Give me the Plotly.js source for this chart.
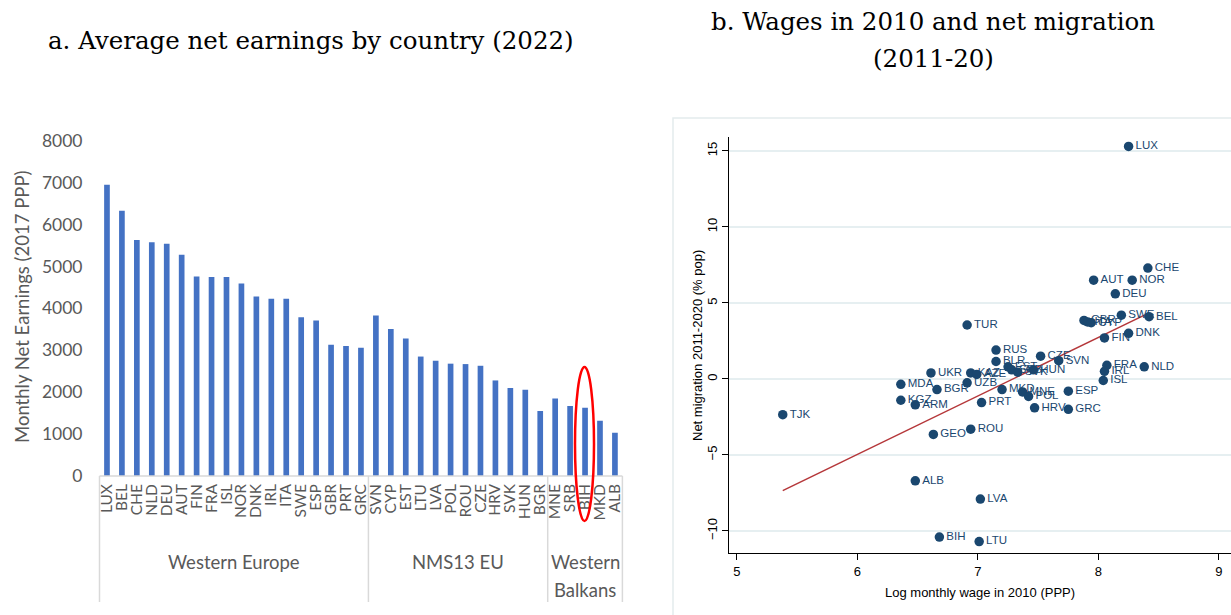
<!DOCTYPE html>
<html>
<head>
<meta charset="utf-8">
<script src="https://cdn.plot.ly/plotly-3.0.1.min.js"></script>
<style>
  html, body { margin: 0; padding: 0; background: #ffffff; }
  #chart { width: 1231px; height: 615px; }
</style>
</head>
<body>
<div id="chart"></div>
<script>
// ---------- Panel a data ----------
const countries = ['LUX','BEL','CHE','NLD','DEU','AUT','FIN','FRA','ISL','NOR','DNK','IRL','ITA','SWE','ESP','GBR','PRT','GRC',
                   'SVN','CYP','EST','LTU','LVA','POL','ROU','CZE','HRV','SVK','HUN','BGR',
                   'MNE','SRB','BIH','MKD','ALB'];
const earnings = [6950, 6330, 5630, 5580, 5540, 5280, 4760, 4750, 4750, 4590, 4280, 4230, 4230, 3790, 3710, 3130, 3100, 3060,
                  3830, 3510, 3280, 2850, 2750, 2680, 2670, 2630, 2280, 2100, 2060, 1550,
                  1850, 1670, 1630, 1320, 1030];
const groupNames = ['Western Europe', 'NMS13 EU', 'Western<br>Balkans'];
const groupSizes = [18, 12, 5];
const yTicksA = [0, 1000, 2000, 3000, 4000, 5000, 6000, 7000, 8000];

// ---------- Panel b data ----------
const isoCodes = ['LUX','CHE','AUT','NOR','DEU','SWE','BEL','GBR','ITA','CYP','FIN','DNK','FRA','IRL','ISL','NLD',
                  'ESP','SVN','GRC','HRV','TUR','RUS','BLR','EST','SRB','SVK','HUN','CZE','UKR','KAZ','AZE','UZB',
                  'MDA','BGR','KGZ','ARM','PRT','MKD','MNE','POL','GEO','ROU','TJK','ALB','LVA','BIH','LTU'];
const logWage = [8.25, 8.41, 7.96, 8.28, 8.14, 8.19, 8.42, 7.88, 7.91, 7.94, 8.05, 8.25, 8.07, 8.05, 8.04, 8.38,
                 7.75, 7.67, 7.75, 7.47, 6.91, 7.15, 7.15, 7.25, 7.28, 7.33, 7.46, 7.52, 6.61, 6.94, 6.99, 6.91,
                 6.36, 6.66, 6.36, 6.48, 7.03, 7.20, 7.37, 7.42, 6.63, 6.94, 5.38, 6.48, 7.02, 6.68, 7.01];
const netMig = [15.3, 7.3, 6.5, 6.5, 5.6, 4.2, 4.1, 3.85, 3.75, 3.7, 2.7, 3.0, 0.9, 0.5, -0.1, 0.8,
                -0.8, 1.2, -2.0, -1.9, 3.55, 1.9, 1.15, 0.8, 0.6, 0.45, 0.6, 1.5, 0.4, 0.4, 0.3, -0.25,
                -0.35, -0.7, -1.4, -1.7, -1.55, -0.7, -0.85, -1.15, -3.65, -3.3, -2.35, -6.7, -7.9, -10.4, -10.7];
const fitX = [5.38, 8.42];
const fitY = [-7.35, 4.35];
const yTicksB = [-10, -5, 0, 5, 10, 15];
const xTicksB = [5, 6, 7, 8, 9];

// ---------- helpers (pixel -> paper) ----------
const W = 1231, H = 615;
const px = v => v / W;
const py = v => 1 - v / H;

const grey = '#595959';
const fontA = 'Lato, "Open Sans", sans-serif';
const fontB = '"Liberation Sans", Arial, sans-serif';
const serif = '"DejaVu Serif", "Liberation Serif", serif';

const traces = [
  {
    type: 'bar', x: countries, y: earnings, xaxis: 'x', yaxis: 'y',
    marker: { color: '#4472C4', line: { width: 0 } },
    hoverinfo: 'x+y'
  },
  {
    type: 'scatter', mode: 'lines', x: fitX, y: fitY, xaxis: 'x2', yaxis: 'y2',
    line: { color: '#B5373A', width: 1.5 }, hoverinfo: 'skip'
  },
  {
    type: 'scatter', mode: 'markers+text', x: logWage, y: netMig, text: isoCodes,
    xaxis: 'x2', yaxis: 'y2', textposition: 'middle right',
    textfont: { family: fontB, size: 11.5, color: '#1A476F' },
    marker: { color: '#1A476F', size: 9.5 }, cliponaxis: false
  }
];

// Shapes: category box lines for panel a, red ellipse, panel b frame
const shapes = [];
const lineCol = '#D9D9D9';
const xLeft = 99.5, step = 14.94;
shapes.push({ type: 'line', xref: 'paper', yref: 'paper', x0: px(xLeft), x1: px(xLeft + step * countries.length), y0: py(476), y1: py(476), line: { color: lineCol, width: 1.5 } });
let cum = 0;
const bounds = [xLeft];
groupSizes.forEach(n => { cum += n; bounds.push(xLeft + step * cum); });
bounds.forEach(b => {
  shapes.push({ type: 'line', xref: 'paper', yref: 'paper', x0: px(b), x1: px(b), y0: py(476), y1: py(602), line: { color: lineCol, width: 1.5 } });
});
// red ellipse around BIH
shapes.push({ type: 'circle', xref: 'paper', yref: 'paper', x0: px(575), x1: px(594), y0: py(521), y1: py(367), line: { color: '#FF0000', width: 2.5 } });
// panel b frame
shapes.push({ type: 'rect', xref: 'paper', yref: 'paper', x0: px(673), x1: px(1240), y0: py(625), y1: py(118), line: { color: '#E4EBED', width: 1.5 }, layer: 'below' });

const annotations = [];
// group labels (one annotation per text line)
for (let i = 0; i < groupNames.length; i++) {
  const c = (bounds[i] + bounds[i + 1]) / 2;
  groupNames[i].split('<br>').forEach((ln, k) => {
    annotations.push({
      xref: 'paper', yref: 'paper', x: px(c), y: py(562 + 28 * k), xanchor: 'center', yanchor: 'middle',
      text: ln, showarrow: false, font: { family: fontA, size: 18.5, color: grey }
    });
  });
}
// panel titles
const titleFont = { family: serif, size: 24.5, color: '#000000' };
annotations.push({ xref: 'paper', yref: 'paper', x: px(311), y: py(41), xanchor: 'center', yanchor: 'middle', showarrow: false,
  text: 'a. Average net earnings by country (2022)', font: titleFont });
annotations.push({ xref: 'paper', yref: 'paper', x: px(933), y: py(22), xanchor: 'center', yanchor: 'middle', showarrow: false,
  text: 'b. Wages in 2010 and net migration', font: titleFont });
annotations.push({ xref: 'paper', yref: 'paper', x: px(933), y: py(58), xanchor: 'center', yanchor: 'middle', showarrow: false,
  text: '(2011-20)', font: titleFont });
// axis titles
annotations.push({ xref: 'paper', yref: 'paper', x: px(22), y: py(307), xanchor: 'center', yanchor: 'middle', showarrow: false, textangle: -90,
  text: 'Monthly Net Earnings (2017 PPP)', font: { family: fontA, size: 18.5, color: grey } });
annotations.push({ xref: 'paper', yref: 'paper', x: px(697), y: py(346), xanchor: 'center', yanchor: 'middle', showarrow: false, textangle: -90,
  text: 'Net migration 2011-2020 (% pop)', font: { family: fontB, size: 13, color: '#000000' } });
annotations.push({ xref: 'paper', yref: 'paper', x: px(980), y: py(592), xanchor: 'center', yanchor: 'middle', showarrow: false,
  text: 'Log monthly wage in 2010 (PPP)', font: { family: fontB, size: 13, color: '#000000' } });

const layout = {
  width: W, height: H,
  margin: { l: 0, r: 0, t: 0, b: 0, pad: 0 },
  paper_bgcolor: '#ffffff', plot_bgcolor: 'rgba(0,0,0,0)',
  showlegend: false,
  bargap: 0.62,
  xaxis: {
    domain: [px(xLeft), px(xLeft + step * countries.length)],
    type: 'category', tickmode: 'array', tickvals: countries, ticktext: countries,
    tickangle: -90, showline: false, showgrid: false, zeroline: false, ticks: '', ticklabelstandoff: 4,
    tickfont: { family: fontA, size: 15.5, color: grey }, fixedrange: true
  },
  yaxis: {
    domain: [py(476), py(140.7)], range: [0, 8000], tickvals: yTicksA,
    showline: false, showgrid: false, zeroline: false, ticks: '', ticklabelstandoff: 16,
    tickfont: { family: fontA, size: 17.5, color: grey }, fixedrange: true
  },
  xaxis2: {
    domain: [px(729), 1], range: [4.934, 9.1], anchor: 'y2', tickvals: xTicksB,
    showline: true, linecolor: '#000000', linewidth: 1, ticks: 'outside', ticklen: 6, tickcolor: '#000000',
    showgrid: false, zeroline: false, tickfont: { family: fontB, size: 13, color: '#000000' }
  },
  yaxis2: {
    domain: [py(553), py(137)], range: [-11.45, 15.92], anchor: 'x2', tickvals: yTicksB, tickangle: -90,
    showline: true, linecolor: '#000000', linewidth: 1, ticks: 'outside', ticklen: 6, tickcolor: '#000000',
    showgrid: true, gridcolor: '#E6EFF1', gridwidth: 1.5, zeroline: false,
    tickfont: { family: fontB, size: 13, color: '#000000' }
  },
  shapes: shapes,
  annotations: annotations
};

Plotly.newPlot('chart', traces, layout, { displayModeBar: false, staticPlot: true });
</script>
</body>
</html>
